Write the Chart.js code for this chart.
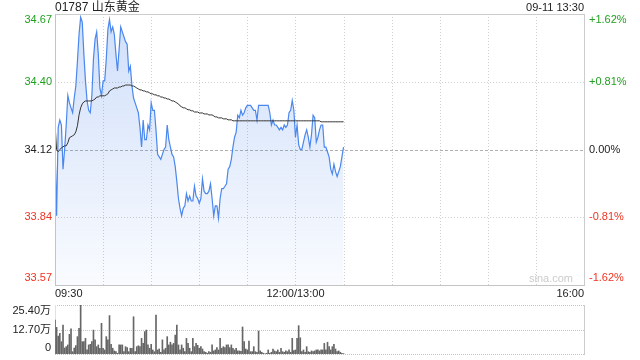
<!DOCTYPE html>
<html><head><meta charset="utf-8">
<script src="https://cdn.jsdelivr.net/npm/chart.js@4/dist/chart.umd.min.js"></script>
<style>
html,body{margin:0;padding:0;background:#fff;width:640px;height:360px;overflow:hidden}
#p{position:absolute;left:0;top:0}
#v{position:absolute;left:0;top:295px}
</style></head><body>
<canvas id="p" width="640" height="300"></canvas>
<canvas id="v" width="640" height="65"></canvas>
<script>
const titleText = '01787 山东黄金';
const stampText = '09-11 13:30';
const watermark = 'sina.com';
const prevClose = 34.12;
const pctTicks = [1.62, 0.81, 0, -0.81, -1.62];
const priceLabels = ['34.67', '34.40', '34.12', '33.84', '33.57'];
const pctLabels = ['+1.62%', '+0.81%', '0.00%', '-0.81%', '-1.62%'];
const timeTicks = [0, 150, 330];
const timeLabels = ['09:30', '12:00/13:00', '16:00'];
const totalMinutes = 330;
const volTicks = [25.40, 12.70, 0];
const volLabels = ['25.40万', '12.70万', '0'];

const price = [
34.13,33.85,34.21,34.24,34.22,34.04,34.12,34.22,34.34,34.31,
34.29,34.27,34.33,34.38,34.48,34.59,34.66,34.64,34.51,34.40,
34.32,34.28,34.27,34.34,34.49,34.57,34.60,34.51,34.37,34.34,
34.40,34.40,34.49,34.61,34.65,34.60,34.62,34.59,34.51,34.44,
34.53,34.62,34.60,34.58,34.56,34.55,34.44,34.46,34.38,34.33,
34.31,34.29,34.27,34.21,34.13,34.24,34.16,34.16,34.22,34.20,
34.31,34.28,34.28,34.20,34.10,34.09,34.08,34.10,34.12,34.13,
34.22,34.16,34.13,34.10,34.09,34.05,33.99,33.92,33.88,33.85,
33.88,33.89,33.94,33.91,33.93,33.91,33.91,33.97,33.93,33.92,
33.90,33.92,34.00,33.95,33.94,33.94,33.95,33.98,33.92,33.85,
33.89,33.89,33.84,33.92,33.96,33.96,33.97,33.98,34.04,34.05,
34.08,34.13,34.17,34.19,34.26,34.25,34.28,34.26,34.27,34.29,
34.30,34.30,34.30,34.29,34.28,34.28,34.24,34.30,34.30,34.30,
34.30,34.30,34.30,34.30,34.27,34.22,34.24,34.22,34.22,34.21,
34.20,34.21,34.20,34.22,34.21,34.22,34.27,34.28,34.32,34.28,
34.17,34.22,34.14,34.12,34.12,34.15,34.18,34.20,34.17,34.13,
34.18,34.26,34.25,34.15,34.17,34.20,34.22,34.22,34.13,34.13,
34.11,34.09,34.04,34.02,34.06,34.03,34.01,34.03,34.05,34.09,
34.13
];

const avgPrice = [
34.225,34.119,34.111,34.119,34.127,34.131,34.135,34.135,34.147,34.168,
34.172,34.176,34.180,34.192,34.217,34.261,34.290,34.306,34.314,34.318,
34.318,34.318,34.318,34.318,34.322,34.326,34.334,34.334,34.339,34.339,
34.339,34.339,34.343,34.347,34.359,34.363,34.367,34.371,34.371,34.371,
34.375,34.375,34.379,34.379,34.383,34.383,34.383,34.383,34.379,34.379,
34.375,34.371,34.367,34.363,34.363,34.359,34.359,34.355,34.355,34.351,
34.347,34.347,34.343,34.343,34.339,34.339,34.334,34.334,34.330,34.330,
34.326,34.326,34.322,34.318,34.318,34.314,34.310,34.306,34.298,34.294,
34.290,34.290,34.286,34.282,34.282,34.278,34.278,34.273,34.273,34.273,
34.269,34.269,34.269,34.265,34.265,34.265,34.261,34.261,34.261,34.257,
34.253,34.253,34.249,34.249,34.249,34.245,34.245,34.245,34.241,34.241,
34.241,34.237,34.237,34.237,34.237,34.237,34.237,34.237,34.237,34.237,
34.237,34.237,34.237,34.237,34.237,34.237,34.237,34.237,34.237,34.237,
34.237,34.237,34.237,34.237,34.237,34.237,34.237,34.237,34.237,34.237,
34.237,34.237,34.237,34.237,34.237,34.237,34.237,34.237,34.237,34.237,
34.237,34.237,34.237,34.237,34.237,34.237,34.237,34.237,34.237,34.237,
34.237,34.237,34.237,34.237,34.237,34.237,34.233,34.233,34.233,34.233,
34.233,34.233,34.233,34.233,34.233,34.233,34.233,34.233,34.233,34.233,
34.233
];

const volume = [
17.6,13.8,9.3,10.7,6.4,15.0,3.1,3.8,4.7,10.2,
13.0,1.2,3.1,4.3,9.0,13.3,25.4,6.4,6.4,8.1,
2.1,4.7,5.0,6.4,12.4,7.3,3.8,4.7,3.0,15.9,
3.0,2.1,9.0,7.3,19.9,5.0,3.0,1.6,1.2,0.4,
4.7,4.7,4.7,1.2,3.8,3.3,1.2,3.0,3.0,19.3,
1.2,3.8,4.3,3.8,8.1,5.5,11.6,12.4,4.7,3.0,
5.0,2.1,1.2,20.2,2.1,2.6,0.9,7.3,2.1,3.0,
9.0,4.7,6.1,4.7,5.5,9.8,15.0,4.7,2.1,4.7,
3.0,1.2,8.1,5.5,3.0,1.2,8.1,3.8,5.5,4.5,
3.0,3.8,2.6,1.2,0.9,0.4,1.2,0.9,4.7,1.6,
2.1,3.3,2.1,8.1,3.0,3.8,3.3,4.7,4.7,3.3,
4.7,3.0,2.1,3.0,1.6,1.6,1.4,14.0,6.4,2.6,
2.1,6.7,1.2,1.2,3.8,1.2,0.9,11.9,1.6,0.9,
0.4,0.1,0.4,2.1,0.4,0.9,2.6,1.6,1.2,2.1,
0.9,3.0,1.2,0.9,1.6,1.2,2.1,0.9,8.1,1.8,
2.1,8.1,14.7,8.4,1.2,2.1,0.9,3.8,1.2,0.9,
1.6,1.2,1.6,2.1,2.1,1.6,2.1,2.1,5.5,2.1,
6.1,3.8,2.1,3.8,5.0,2.6,1.2,1.6,0.9,0.4,
0.2
];

const FONT = "'Liberation Sans', Arial, 'Noto Sans CJK SC', sans-serif";
const GREEN = '#22a022';
const RED = '#ee3322';
const DARK = '#222';
function labelColor(v){ return v > 0 ? GREEN : (v < 0 ? RED : DARK); }

const pMin = prevClose * (1 + pctTicks[pctTicks.length-1]/100);
const pMax = prevClose * (1 + pctTicks[0]/100);

function hLine(ctx, x1, x2, y, color, dash){
  ctx.save(); ctx.strokeStyle = color; ctx.lineWidth = 1; ctx.setLineDash(dash || []);
  const yy = Math.round(y) + 0.5;
  ctx.beginPath(); ctx.moveTo(x1, yy); ctx.lineTo(x2, yy); ctx.stroke(); ctx.restore();
}
function vLine(ctx, x, y1, y2, color, dash){
  ctx.save(); ctx.strokeStyle = color; ctx.lineWidth = 1; ctx.setLineDash(dash || []);
  const xx = Math.round(x) + 0.5;
  ctx.beginPath(); ctx.moveTo(xx, y1); ctx.lineTo(xx, y2); ctx.stroke(); ctx.restore();
}

const priceGrid = {
  id: 'priceGrid',
  beforeDatasetsDraw(chart){
    const {ctx, chartArea: a, scales: {x, y}} = chart;
    for (let m = 30; m < totalMinutes; m += 30) vLine(ctx, x.getPixelForValue(m), a.top, a.bottom, '#cfcfcf', [1, 2]);
    pctTicks.forEach(p => {
      const py = y.getPixelForValue(prevClose * (1 + p/100));
      if (p === pctTicks[0] || p === pctTicks[pctTicks.length-1]) return;
      if (p === 0) hLine(ctx, a.left, a.right, py, '#b0b0b0', [3, 2]);
      else hLine(ctx, a.left, a.right, py, '#cfcfcf', [1, 2]);
    });
    // watermark
    ctx.save(); ctx.font = '11px ' + FONT; ctx.fillStyle = '#cccccc'; ctx.textAlign = 'right'; ctx.textBaseline = 'middle';
    ctx.fillText(watermark, a.right - 11, a.bottom - 6); ctx.restore();
  },
  afterDraw(chart){
    const {ctx, chartArea: a, scales: {x, y}} = chart;
    // border
    hLine(ctx, a.left, a.right + 1, a.top, '#cccccc');
    hLine(ctx, a.left, a.right + 1, a.bottom, '#c4c4c4');
    vLine(ctx, a.left, a.top, a.bottom, '#c4c4c4');
    vLine(ctx, a.right, a.top, a.bottom, '#cccccc');
    ctx.save();
    ctx.font = '11px ' + FONT; ctx.textBaseline = 'middle';
    pctTicks.forEach((p, i) => {
      let py = y.getPixelForValue(prevClose * (1 + p/100));
      py = Math.min(Math.max(py, a.top + 6), a.bottom - 7);
      ctx.fillStyle = labelColor(p);
      ctx.textAlign = 'right'; ctx.fillText(priceLabels[i], a.left - 3, py);
      ctx.textAlign = 'left'; ctx.fillText(pctLabels[i], a.right + 5, py);
    });
    ctx.fillStyle = DARK;
    timeTicks.forEach((m, i) => {
      const px = x.getPixelForValue(m);
      ctx.textAlign = i === 0 ? 'left' : (i === timeTicks.length-1 ? 'right' : 'center');
      ctx.fillText(timeLabels[i], px, a.bottom + 9);
    });
    ctx.font = '12px ' + FONT; ctx.fillStyle = '#222'; ctx.textAlign = 'left';
    ctx.fillText(titleText, a.left, 7.5);
    ctx.font = '11px ' + FONT; ctx.textAlign = 'right';
    ctx.fillText(stampText, a.right, 7.5);
    ctx.restore();
  }
};

new Chart(document.getElementById('p'), {
  type: 'line',
  data: {
    datasets: [
      { label: 'avg', data: avgPrice.map((v, i) => ({x: i, y: v})), borderColor: '#333333', borderWidth: 1,
        pointRadius: 0, tension: 0, fill: false, order: 0 },
      { label: 'price', data: price.map((v, i) => ({x: i, y: v})), borderColor: '#4a87ee', borderWidth: 1.2,
        pointRadius: 0, tension: 0, order: 1, fill: 'start',
        backgroundColor: (c) => {
          const a = c.chart.chartArea; if (!a) return 'rgba(70,130,235,0.15)';
          const g = c.chart.ctx.createLinearGradient(0, a.top, 0, a.bottom);
          g.addColorStop(0, 'rgba(70,130,235,0.26)'); g.addColorStop(1, 'rgba(70,130,235,0.03)');
          return g;
        } }
    ]
  },
  options: {
    responsive: false, animation: false, devicePixelRatio: 1,
    layout: { padding: { left: 55, right: 56, top: 14, bottom: 15 } },
    plugins: { legend: { display: false }, tooltip: { enabled: false } },
    scales: {
      x: { type: 'linear', min: 0, max: totalMinutes, display: false },
      y: { type: 'linear', min: pMin, max: pMax, display: false }
    }
  },
  plugins: [priceGrid]
});

const volGrid = {
  id: 'volGrid',
  beforeDatasetsDraw(chart){
    const {ctx, chartArea: a, scales: {y}} = chart;
    volTicks.forEach(v => hLine(ctx, a.left, a.right, y.getPixelForValue(v), '#c4c4c4', [1, 1]));
    vLine(ctx, a.left, a.top, a.bottom, '#e2e2e2');
    vLine(ctx, a.right, a.top, a.bottom + 1, '#cccccc');
  },
  afterDraw(chart){
    const {ctx, chartArea: a, scales: {y}} = chart;
    ctx.save(); ctx.font = '11px ' + FONT; ctx.textBaseline = 'middle'; ctx.textAlign = 'right'; ctx.fillStyle = DARK;
    volTicks.forEach((v, i) => {
      let py = y.getPixelForValue(v);
      py = Math.min(Math.max(py, a.top + 6), a.bottom - 6);
      ctx.fillText(volLabels[i], a.left - 4, py);
    });
    ctx.restore();
  }
};

new Chart(document.getElementById('v'), {
  type: 'bar',
  data: { datasets: [{ data: volume.map((v, i) => ({x: i, y: v})), backgroundColor: '#666666', barThickness: 1, borderWidth: 0 }] },
  options: {
    responsive: false, animation: false, devicePixelRatio: 1,
    layout: { padding: { left: 55, right: 56, top: 10, bottom: 6 } },
    plugins: { legend: { display: false }, tooltip: { enabled: false } },
    scales: {
      x: { type: 'linear', min: 0, max: totalMinutes, offset: false, display: false },
      y: { type: 'linear', min: 0, max: volTicks[0], display: false }
    }
  },
  plugins: [volGrid]
});
</script>
</body></html>
